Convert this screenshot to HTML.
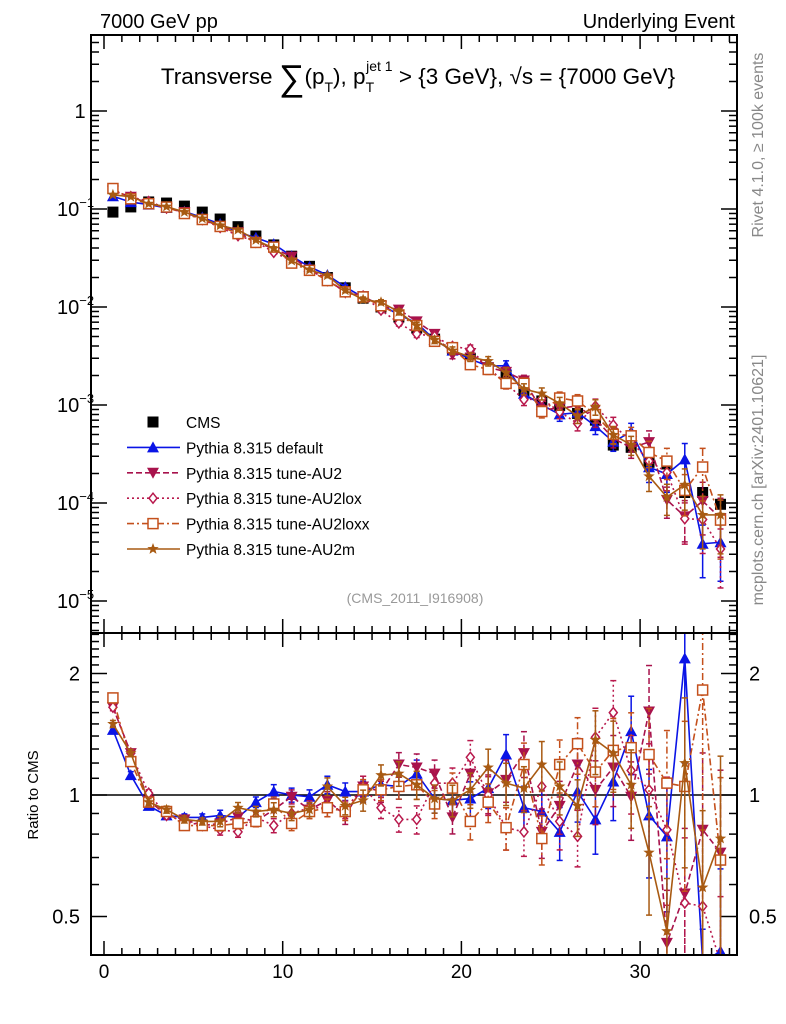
<!DOCTYPE html>
<html><head><meta charset="utf-8">
<style>
html,body{margin:0;padding:0;background:#fff;width:786px;height:1024px;overflow:hidden;}
svg{display:block;font-family:"Liberation Sans",sans-serif;}
</style></head>
<body>
<svg id="c" width="786" height="1024" viewBox="0 0 786 1024" xmlns="http://www.w3.org/2000/svg">
<defs>
<clipPath id="cm"><rect x="92" y="36" width="644" height="596"/></clipPath>
<clipPath id="cr"><rect x="92" y="634" width="644" height="320"/></clipPath>
</defs>
<g id="static">
<text x="100" y="28" font-size="20">7000 GeV pp</text>
<text x="735" y="28" font-size="20" text-anchor="end">Underlying Event</text>
<text x="418" y="84" font-size="22.5" text-anchor="middle">Transverse <tspan font-size="36" dy="6">∑</tspan><tspan dy="-6">(p</tspan><tspan font-size="14" dy="8">T</tspan><tspan dy="-8">), p</tspan><tspan font-size="14" dy="8">T</tspan><tspan font-size="14" dx="-8" dy="-21">jet 1</tspan><tspan dy="13"> &gt; {3 GeV}, √s = {7000 GeV}</tspan></text>
<text x="763" y="145" font-size="16" fill="#888" text-anchor="middle" transform="rotate(-90 763 145)">Rivet 4.1.0, ≥ 100k events</text>
<text x="763" y="480" font-size="16" fill="#888" text-anchor="middle" transform="rotate(-90 763 480)">mcplots.cern.ch [arXiv:2401.10621]</text>
<text x="415" y="603" font-size="14" fill="#999" text-anchor="middle">(CMS_2011_I916908)</text>
<text x="38" y="795" font-size="15" text-anchor="middle" transform="rotate(-90 38 795)">Ratio to CMS</text>
</g>
<g id="plot"></g>
</svg>
<script>
const bins = [0.5,1.5,2.5,3.5,4.5,5.5,6.5,7.5,8.5,9.5,10.5,11.5,12.5,13.5,14.5,15.5,16.5,17.5,18.5,19.5,20.5,21.5,22.5,23.5,24.5,25.5,26.5,27.5,28.5,29.5,30.5,31.5,32.5,33.5,34.5];
const cmsValues = [0.093,0.105,0.118,0.115,0.107,0.093,0.079,0.066,0.053,0.043,0.033,0.026,0.020,0.0157,0.0123,0.0100,0.0079,0.0061,0.0047,0.0037,0.0030,0.0024,0.0020,0.0014,0.0011,0.00099,0.00082,0.00070,0.00039,0.00037,0.00026,0.00025,0.000128,0.000128,0.000097];
const ratioDefault = [1.45,1.12,0.94,0.89,0.88,0.88,0.89,0.88,0.96,1.02,1.0,0.99,1.06,1.02,1.02,1.06,1.05,1.13,0.98,0.97,0.98,1.04,1.26,0.93,0.91,0.81,1.02,0.87,1.08,1.44,0.89,0.79,2.18,0.3,0.41];
const ratioAU2 = [1.65,1.27,0.97,0.89,0.87,0.84,0.85,0.88,0.86,0.92,0.99,0.92,0.97,0.89,1.05,1.02,1.19,1.17,1.13,0.88,1.13,1.01,1.09,1.27,0.81,0.94,1.19,1.03,1.17,0.99,1.61,0.43,0.57,0.82,0.72];
const ratioAU2lox = [1.65,1.27,1.01,0.89,0.86,0.84,0.82,0.81,0.88,0.84,0.90,0.93,0.93,0.92,1.05,0.93,0.87,0.87,1.07,1.07,1.24,1.0,0.83,0.81,1.05,0.86,0.79,1.39,1.60,1.15,1.03,0.82,0.54,0.53,0.35];
const ratioAU2loxx = [1.74,1.21,0.96,0.91,0.84,0.84,0.84,0.85,0.86,0.95,0.85,0.91,0.93,0.91,1.03,1.03,1.05,1.06,0.95,1.04,0.86,0.96,0.83,1.19,0.78,1.19,1.34,1.14,1.29,1.31,1.26,1.07,1.05,1.82,0.69];
const ratioAU2m = [1.50,1.27,0.96,0.92,0.87,0.86,0.86,0.93,0.91,0.92,0.90,0.92,1.05,0.94,0.97,1.12,1.13,1.06,0.98,0.97,1.03,1.17,1.07,1.04,1.19,1.05,0.94,1.37,1.27,1.06,0.72,0.46,1.20,0.59,0.78];
const relErr = [0.02,0.02,0.02,0.02,0.02,0.02,0.03,0.03,0.03,0.04,0.04,0.04,0.05,0.05,0.06,0.06,0.07,0.08,0.08,0.09,0.1,0.11,0.12,0.13,0.14,0.15,0.16,0.18,0.2,0.22,0.3,0.35,0.45,0.55,0.6];
const mainTickLabels = ["1","10","10","10","10","10"];
const mainTickExps = ["","−1","−2","−3","−4","−5"];
const ratioTickLabels = ["0.5","1","2"];
const ratioTickValues = [0.5,1,2];
const xTickValues = [0,10,20,30];
const legendLabels = ["CMS","Pythia 8.315 default","Pythia 8.315 tune-AU2","Pythia 8.315 tune-AU2lox","Pythia 8.315 tune-AU2loxx","Pythia 8.315 tune-AU2m"];

const NS="http://www.w3.org/2000/svg";
const plot=document.getElementById('plot');
function clamp(v,a,b){return Math.max(a,Math.min(b,v));}
function xp(v){return 104+17.87*v;}
function yMain(v){return clamp(111-98*Math.log10(v),30,640);}
function yRatio(v){return clamp(795-121.5*Math.log2(v),628,962);}
function mk(tag,attrs,parent){const e=document.createElementNS(NS,tag);for(const k in attrs)e.setAttribute(k,attrs[k]);(parent||plot).appendChild(e);return e;}

const fm=mk('rect',{x:91,y:35,width:646,height:598,fill:'none',stroke:'#000','stroke-width':2});


const fr=mk('rect',{x:91,y:633,width:646,height:322,fill:'none',stroke:'#000','stroke-width':2});



for(let i=0;i<=35;i++){
  const x=xp(i),L=(i%10===0)?14:7;
  mk('line',{x1:x,x2:x,y1:955,y2:955-L,stroke:'#000','stroke-width':1.5});
  mk('line',{x1:x,x2:x,y1:633,y2:633-L,stroke:'#000','stroke-width':1.5});
  mk('line',{x1:x,x2:x,y1:633,y2:633+L,stroke:'#000','stroke-width':1.5});
  mk('line',{x1:x,x2:x,y1:35,y2:35+L,stroke:'#000','stroke-width':1.5});
}
xTickValues.forEach(v=>{
  const t=mk('text',{x:xp(v),y:978,'font-size':19,'text-anchor':'middle'});t.textContent=String(v);
  
  
});
for(let d=-6;d<=1;d++){
  for(let m=1;m<10;m++){
    const v=m*Math.pow(10,d),y=111-98*Math.log10(v);
    if(y<36||y>632)continue;
    const L=m===1?16:8;
    mk('line',{x1:91,x2:91+L,y1:y,y2:y,stroke:'#000','stroke-width':1.5});
    mk('line',{x1:737,x2:737-L,y1:y,y2:y,stroke:'#000','stroke-width':1.5});
  }
}
mainTickLabels.forEach((lab,i)=>{
  const y=yMain(Math.pow(10,-i));
  const t=mk('text',{x:i===0?80:57,y:y+7,'font-size':20,'text-anchor':i===0?'middle':'start'});
  t.textContent=lab;
  if(mainTickExps[i]){const s=mk('tspan',{'font-size':13,dy:-9},t);s.textContent=mainTickExps[i];}
  
  
});
const rt=[0.4,0.5,0.6,0.7,0.8,0.9,1,1.1,1.2,1.3,1.4,1.5,1.6,1.7,1.8,1.9,2,2.1,2.2,2.3,2.4,2.5];
rt.forEach(v=>{const y=795-121.5*Math.log2(v);if(y<634||y>954)return;const L=(v===0.5||v===1||v===2)?16:8;
  mk('line',{x1:91,x2:91+L,y1:y,y2:y,stroke:'#000','stroke-width':1.5});
  mk('line',{x1:737,x2:737-L,y1:y,y2:y,stroke:'#000','stroke-width':1.5});});
ratioTickValues.forEach((v,i)=>{
  const y=yRatio(v)+7;
  const a=mk('text',{x:80,y:y,'font-size':20,'text-anchor':'end'});a.textContent=ratioTickLabels[i];
  
  
  const b=mk('text',{x:749,y:y,'font-size':20});b.textContent=ratioTickLabels[i];
  
  
});
const one=mk('line',{x1:92,x2:736,y1:yRatio(1),y2:yRatio(1),stroke:'#000','stroke-width':1.5});



function marker(g,type,x,y,col){
  if(type==='sq') mk('rect',{x:x-5.5,y:y-5.5,width:11,height:11,fill:'#000'},g);
  else if(type==='tu') mk('polygon',{points:`${x},${y-6} ${x-6},${y+5} ${x+6},${y+5}`,fill:col},g);
  else if(type==='td') mk('polygon',{points:`${x},${y+6} ${x-6},${y-5} ${x+6},${y-5}`,fill:col},g);
  else if(type==='di') mk('polygon',{points:`${x},${y-5} ${x-4},${y} ${x},${y+5} ${x+4},${y}`,fill:'#fff',stroke:col,'stroke-width':1.5},g);
  else if(type==='os') mk('rect',{x:x-5,y:y-5,width:10,height:10,fill:'#fff',stroke:col,'stroke-width':1.5},g);
  else if(type==='st'){let p=[];for(let k=0;k<10;k++){const r=k%2?2.5:6,a=-Math.PI/2+k*Math.PI/5;p.push((x+r*Math.cos(a)).toFixed(1)+','+(y+r*Math.sin(a)).toFixed(1));}
    mk('polygon',{points:p.join(' '),fill:col},g);}
}
const series=[
 {name:'default',r:ratioDefault,col:'#0a14e6',dash:'',m:'tu'},
 {name:'au2',r:ratioAU2,col:'#a8124c',dash:'6,3',m:'td'},
 {name:'au2lox',r:ratioAU2lox,col:'#b8184c',dash:'2,3',m:'di'},
 {name:'au2loxx',r:ratioAU2loxx,col:'#c4501c',dash:'7,3,2,3',m:'os'},
 {name:'au2m',r:ratioAU2m,col:'#a85a12',dash:'',m:'st'}
];
const gc=mk('g',{'clip-path':'url(#cm)'});


bins.forEach((b,i)=>marker(gc,'sq',xp(b),yMain(cmsValues[i])));
series.forEach(s=>{
  const gm=mk('g',{'clip-path':'url(#cm)'});
  
  
  const gr=mk('g',{'clip-path':'url(#cr)'});
  
  
  const pm=[],pr=[];
  bins.forEach((b,i)=>{
    const v=cmsValues[i]*s.r[i],e=relErr[i];
    const x=xp(b);
    pm.push(x+','+yMain(v));pr.push(x+','+yRatio(s.r[i]));
    const lo=Math.max(v*(1-e),1e-7),hi=v*(1+e);
    mk('line',{x1:x,x2:x,y1:yMain(lo),y2:yMain(hi),stroke:s.col,'stroke-width':1.5,'stroke-dasharray':s.dash},gm);
    [lo,hi].forEach(q=>mk('line',{x1:x-3,x2:x+3,y1:yMain(q),y2:yMain(q),stroke:s.col,'stroke-width':1.5},gm));
    const rl=Math.max(s.r[i]*(1-e),0.01),rh=s.r[i]*(1+e);
    mk('line',{x1:x,x2:x,y1:yRatio(rl),y2:yRatio(rh),stroke:s.col,'stroke-width':1.5,'stroke-dasharray':s.dash},gr);
    [rl,rh].forEach(q=>mk('line',{x1:x-3,x2:x+3,y1:yRatio(q),y2:yRatio(q),stroke:s.col,'stroke-width':1.5},gr));
  });
  mk('polyline',{points:pm.join(' '),fill:'none',stroke:s.col,'stroke-width':1.6,'stroke-dasharray':s.dash},gm);
  mk('polyline',{points:pr.join(' '),fill:'none',stroke:s.col,'stroke-width':1.6,'stroke-dasharray':s.dash},gr);
  bins.forEach((b,i)=>{marker(gm,s.m,xp(b),yMain(cmsValues[i]*s.r[i]),s.col);marker(gr,s.m,xp(b),yRatio(s.r[i]),s.col);});
});
const lg=mk('g',{});


legendLabels.forEach((lab,i)=>{
  const y=422+25.4*i;
  const g=mk('g',{},lg);
  
  
  if(i===0) marker(g,'sq',153,y);
  else{const s=series[i-1];
    mk('line',{x1:127,x2:180,y1:y,y2:y,stroke:s.col,'stroke-width':1.6,'stroke-dasharray':s.dash},g);
    marker(g,s.m,153,y,s.col);}
  const t=mk('text',{x:186,y:y+6,'font-size':15.5},g);t.textContent=lab;
});
</script>
</body></html>
